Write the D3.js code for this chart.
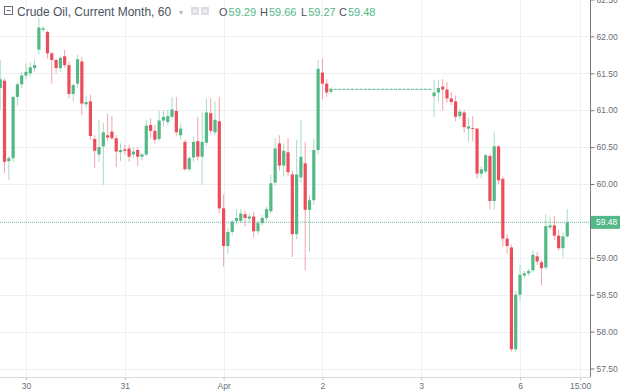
<!DOCTYPE html>
<html>
<head>
<meta charset="utf-8">
<script src="https://cdnjs.cloudflare.com/ajax/libs/d3/7.8.5/d3.min.js"></script>
<style>
  html, body { margin: 0; padding: 0; background: #fff; }
  svg { display: block; font-family: "Liberation Sans", Arial, sans-serif; }
  .axis text { fill: #6b6e78; font-size: 8.5px; }
  .axis path, .axis line { stroke: #777a84; }
</style>
</head>
<body>
<svg width="620" height="391"></svg>
<script>
// hourly bars (index 0 = first bar at the left edge)
var opens = [
  61.30, 61.40, 60.31, 60.35, 61.18, 61.35, 61.47, 61.50, 61.57, 61.82,
  62.09, 62.06, 61.77, 61.68, 61.57, 61.73, 61.61, 61.22, 61.36, 61.66,
  61.08, 61.12, 60.61, 60.40, 60.51, 60.66, 60.71, 60.62, 60.43, 60.47,
  60.48, 60.40, 60.46, 60.37, 60.40, 60.80, 60.72, 60.61, 60.86, 60.84,
  60.91, 60.99, 60.66, 60.57, 60.20, 60.36, 60.58, 60.37, 60.56, 60.96,
  60.70, 60.85, 59.67, 59.16, 59.35, 59.50, 59.50, 59.59, 59.53, 59.56,
  59.36, 59.47, 59.54, 59.63, 60.02, 60.55, 60.25, 60.43, 60.13, 59.32,
  60.09, 60.28, 59.65, 59.78, 60.46, 61.51, 61.36, 61.25,
  61.29, 61.29, 61.29, 61.29, 61.29, 61.29, 61.29, 61.29, 61.29, 61.29,
  61.29, 61.29, 61.29, 61.29, 61.29, 61.29, 61.29, 61.29, 61.29, 61.29,
  61.29, 61.29, 61.29,
  61.19, 61.24, 61.32, 61.28, 61.16, 61.12, 60.92, 60.97, 60.75, 60.76,
  60.75, 60.14, 60.17, 60.38, 59.77, 60.51, 60.07, 59.26, 59.14, 57.76,
  58.50, 58.76, 58.79, 58.83, 59.02, 58.94, 58.87, 59.41, 59.44, 59.30,
  59.13, 59.29
];
var highs = [
  61.68, 61.43, 60.38, 61.20, 61.38, 61.52, 61.63, 61.65, 61.69, 62.25,
  62.14, 62.08, 61.79, 61.70, 61.73, 61.82, 61.66, 61.36, 61.75, 61.72,
  61.20, 61.21, 60.66, 60.87, 60.83, 60.95, 60.92, 60.66, 60.55, 60.53,
  60.53, 60.50, 60.50, 60.42, 60.87, 60.89, 60.80, 60.99, 61.00, 61.00,
  61.18, 61.18, 60.82, 60.60, 60.38, 60.64, 60.91, 60.97, 61.16, 61.16,
  61.12, 61.18, 59.86, 59.40, 59.52, 59.66, 59.66, 59.64, 59.60, 59.62,
  59.50, 59.58, 59.69, 60.12, 60.62, 60.66, 60.55, 60.62, 60.18, 60.60,
  60.87, 60.57, 59.85, 60.61, 61.68, 61.70, 61.42, 61.31,
  61.29, 61.29, 61.29, 61.29, 61.29, 61.29, 61.29, 61.29, 61.29, 61.29,
  61.29, 61.29, 61.29, 61.29, 61.29, 61.29, 61.29, 61.29, 61.29, 61.29,
  61.29, 61.29, 61.29,
  61.41, 61.41, 61.42, 61.38, 61.25, 61.20, 61.02, 61.00, 60.90, 60.92,
  60.76, 60.24, 60.41, 60.41, 60.71, 60.52, 60.10, 59.32, 59.18, 58.55,
  58.90, 58.82, 58.85, 59.10, 59.08, 58.97, 59.59, 59.55, 59.57, 59.38,
  59.34, 59.66
];
var lows = [
  61.00, 60.15, 60.05, 60.30, 61.06, 61.30, 61.42, 61.45, 61.52, 61.76,
  62.05, 61.70, 61.36, 61.50, 61.52, 61.58, 61.16, 61.12, 61.30, 60.93,
  61.03, 60.60, 60.22, 60.30, 59.99, 60.58, 60.60, 60.23, 60.31, 60.40,
  60.30, 60.35, 60.24, 60.32, 60.38, 60.62, 60.55, 60.58, 60.78, 60.80,
  60.88, 60.66, 60.60, 60.18, 60.17, 60.30, 60.32, 59.99, 60.52, 60.68,
  60.66, 59.60, 58.88, 59.05, 59.30, 59.45, 59.47, 59.42, 59.48, 59.28,
  59.32, 59.44, 59.50, 59.60, 59.98, 60.18, 60.10, 60.10, 59.01, 59.25,
  60.02, 58.83, 59.08, 59.72, 60.40, 61.15, 61.18, 61.22,
  61.29, 61.29, 61.29, 61.29, 61.29, 61.29, 61.29, 61.29, 61.29, 61.29,
  61.29, 61.29, 61.29, 61.29, 61.29, 61.29, 61.29, 61.29, 61.29, 61.29,
  61.29, 61.29, 61.29,
  60.91, 61.12, 61.00, 61.10, 61.07, 60.85, 60.88, 60.70, 60.58, 60.58,
  60.07, 60.08, 60.14, 59.65, 59.65, 60.00, 59.15, 59.06, 57.73, 57.72,
  58.42, 58.72, 58.76, 58.80, 58.90, 58.63, 58.84, 59.38, 59.24, 59.10,
  59.01, 59.27
];
var closes = [
  61.42, 60.30, 60.35, 61.18, 61.35, 61.47, 61.52, 61.58, 61.61, 62.12,
  62.11, 61.77, 61.68, 61.57, 61.71, 61.61, 61.22, 61.34, 61.69, 61.09,
  61.11, 60.65, 60.45, 60.50, 60.70, 60.63, 60.62, 60.44, 60.46, 60.45,
  60.37, 60.44, 60.37, 60.40, 60.79, 60.72, 60.60, 60.86, 60.91, 60.92,
  61.01, 60.70, 60.75, 60.20, 60.35, 60.57, 60.37, 60.57, 60.97, 60.72,
  60.87, 59.67, 59.16, 59.35, 59.49, 59.54, 59.60, 59.54, 59.56, 59.36,
  59.47, 59.54, 59.66, 60.01, 60.48, 60.25, 60.45, 60.16, 59.32, 60.13,
  60.37, 59.65, 59.78, 60.46, 61.56, 61.36, 61.24, 61.29,
  61.29, 61.29, 61.29, 61.29, 61.29, 61.29, 61.29, 61.29, 61.29, 61.29,
  61.29, 61.29, 61.29, 61.29, 61.29, 61.29, 61.29, 61.29, 61.29, 61.29,
  61.29, 61.29, 61.29,
  61.24, 61.30, 61.28, 61.16, 61.11, 60.91, 60.98, 60.77, 60.78, 60.75,
  60.14, 60.20, 60.39, 59.77, 60.51, 60.05, 59.26, 59.16, 57.76, 58.50,
  58.77, 58.79, 58.82, 59.04, 58.95, 58.86, 59.43, 59.44, 59.30, 59.13,
  59.29, 59.48
];

var priceTicks = [57.5, 58, 58.5, 59, 59.5, 60, 60.5, 61, 61.5, 62, 62.5];
var timeTickIndex = [6, 29, 52, 75, 98, 121, 135];
var timeTickLabel = ["30", "31", "Apr", "2", "3", "6", "15:00"];
var lastPrice = 59.48;

var up = "#53b987", down = "#eb4d5c";

var svg = d3.select("svg"),
    width = +svg.attr("width"),
    height = +svg.attr("height");

var plotRight = 590, plotBottom = 377;

var x = d3.scaleLinear().domain([6, 121]).range([26, 520]);
var y = d3.scaleLinear().domain([57.5, 62]).range([368.5, 36.4]);

var bars = opens.map(function(o, i) {
  return {i: i, o: o, h: highs[i], l: lows[i], c: closes[i]};
});

svg.append("defs").append("clipPath").attr("id", "plot")
  .append("rect").attr("x", 0).attr("y", 0).attr("width", plotRight).attr("height", plotBottom);

//grid
var grid = svg.append("g").attr("clip-path", "url(#plot)");
grid.selectAll("line.h").data(priceTicks).enter().append("line")
  .attr("x1", 0).attr("x2", plotRight)
  .attr("y1", function(d) { return Math.round(y(d)) + 0.5; })
  .attr("y2", function(d) { return Math.round(y(d)) + 0.5; })
  .style("stroke", "#eef0f4");
grid.selectAll("line.v").data(timeTickIndex).enter().append("line")
  .attr("y1", 0).attr("y2", plotBottom)
  .attr("x1", function(d) { return Math.round(x(d)) + 0.5; })
  .attr("x2", function(d) { return Math.round(x(d)) + 0.5; })
  .style("stroke", "#eef0f4");

//last price line
svg.append("line")
  .attr("x1", 0).attr("x2", plotRight)
  .attr("y1", Math.round(y(lastPrice)) + 0.5).attr("y2", Math.round(y(lastPrice)) + 0.5)
  .style("stroke", up).style("stroke-opacity", 0.7)
  .style("stroke-dasharray", "1,1");

//candles
var g = svg.append("g").attr("clip-path", "url(#plot)");
var color = function(d) { return d.c >= d.o ? up : down; };

g.selectAll("line.wick").data(bars).enter().append("line")
  .attr("class", "wick")
  .attr("x1", function(d) { return x(d.i); })
  .attr("x2", function(d) { return x(d.i); })
  .attr("y1", function(d) { return y(d.h); })
  .attr("y2", function(d) { return y(d.l); })
  .style("stroke", color)
  .style("stroke-opacity", 0.5)
  .style("stroke-width", 1);

g.selectAll("rect.body").data(bars).enter().append("rect")
  .attr("class", "body")
  .attr("x", function(d) { return x(d.i) - 1.6; })
  .attr("width", 3.2)
  .attr("y", function(d) { return y(Math.max(d.o, d.c)); })
  .attr("height", function(d) { return Math.max(1, Math.abs(y(d.o) - y(d.c))); })
  .style("fill", color);

//axes
var yAxis = d3.axisRight(y).tickValues(priceTicks)
  .tickFormat(d3.format(".2f")).tickSize(4).tickPadding(2);
svg.append("g").attr("class", "axis")
  .attr("transform", "translate(" + (plotRight + 0.5) + ",0)")
  .call(yAxis)
  .call(function(a) { a.select(".domain").attr("d", "M0,0V" + plotBottom); });

var xAxis = d3.axisBottom(x).tickValues(timeTickIndex)
  .tickFormat(function(d, i) { return timeTickLabel[i]; })
  .tickSize(3).tickPadding(2);
svg.append("g").attr("class", "axis")
  .attr("transform", "translate(0," + (plotBottom + 0.5) + ")")
  .call(xAxis)
  .call(function(a) {
    a.select(".domain").attr("d", "M0,0H" + (plotRight + 0.5)).style("stroke", "#d6d9de");
    a.selectAll(".tick line").style("stroke", "#c4c7cc");
  });

//last price label
svg.append("rect")
  .attr("x", plotRight + 1).attr("y", y(lastPrice) - 6.5)
  .attr("width", width - plotRight - 1).attr("height", 13)
  .style("fill", up);
svg.append("text")
  .attr("x", plotRight + 6).attr("y", y(lastPrice) + 3)
  .style("font-size", "8.5px").style("fill", "#fff")
  .text(d3.format(".2f")(lastPrice));

//legend
var legend = svg.append("g");
legend.append("rect").attr("x", 4.5).attr("y", 6.5).attr("width", 8).attr("height", 8)
  .style("fill", "none").style("stroke", "#6b6e78");
legend.append("line").attr("x1", 6.5).attr("x2", 10.5).attr("y1", 10.5).attr("y2", 10.5)
  .style("stroke", "#6b6e78");
legend.append("text").attr("x", 17).attr("y", 16)
  .style("font-size", "12px").style("fill", "#4c525e")
  .text("Crude Oil, Current Month, 60");
legend.append("text").attr("x", 179).attr("y", 15)
  .style("font-size", "8px").style("fill", "#b4b7bd").text("▾");
[191, 201].forEach(function(bx) {
  legend.append("rect").attr("x", bx).attr("y", 7).attr("width", 8).attr("height", 8)
    .style("fill", "#dcdee2");
  legend.append("rect").attr("x", bx + 2.5).attr("y", 9.5).attr("width", 3).attr("height", 3)
    .style("fill", "#f3f4f6");
});
var ohlc = [["O", opens[132]], ["H", highs[132]], ["L", lows[132]], ["C", closes[132]]];
var legendX = [219, 260, 301, 339];
ohlc.forEach(function(p, k) {
  var t = legend.append("text").attr("x", legendX[k]).attr("y", 16).style("font-size", "11px");
  t.append("tspan").style("fill", "#4c525e").text(p[0]);
  t.append("tspan").attr("dx", 1).style("fill", up).text(d3.format(".2f")(p[1]));
});
</script>
</body>
</html>
